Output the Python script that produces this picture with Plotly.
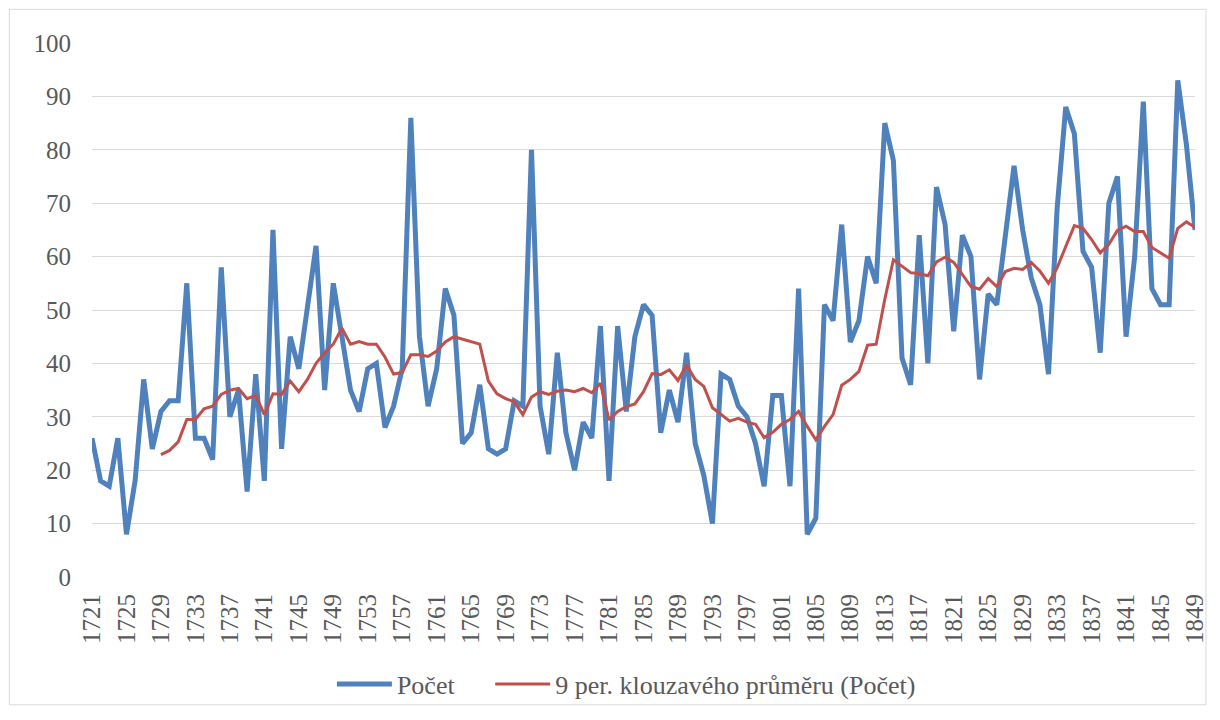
import plotly.graph_objects as go

years = list(range(1721, 1850))

pocet = [
    26, 18, 17, 26, 8, 18, 37, 24, 31, 33,      # 1721-1730
    33, 55, 26, 26, 22, 58, 30, 35, 16, 38,     # 1731-1740
    18, 65, 24, 45, 39, 50, 62, 35, 55, 45,     # 1741-1750
    35, 31, 39, 40, 28, 32, 39, 86, 45, 32,     # 1751-1760
    39, 54, 49, 25, 27, 36, 24, 23, 24, 33,     # 1761-1770
    32, 80, 32, 23, 42, 27, 20, 29, 26, 47,     # 1771-1780
    18, 47, 31, 45, 51, 49, 27, 35, 29, 42,     # 1781-1790
    25, 19, 10, 38, 37, 32, 30, 25, 17, 34,     # 1791-1800
    34, 17, 54, 8, 11, 51, 48, 66, 44, 48,      # 1801-1810
    60, 55, 85, 78, 41, 36, 64, 40, 73, 66,     # 1811-1820
    46, 64, 60, 37, 53, 51, 65, 77, 65, 56,     # 1821-1830
    51, 38, 69, 88, 83, 61, 58, 42, 70, 75,     # 1831-1840
    45, 60, 89, 54, 51, 51, 93, 81, 65,         # 1841-1849
]

klouzavy = [None] * 8 + [
    22.9, 23.7,                                                   # 1729-1730
    25.3, 29.5, 29.5, 31.5, 32.0, 34.2, 35.0, 35.3, 33.4, 34.0,   # 1731-1740
    30.4, 34.3, 34.2, 36.7, 34.7, 37.0, 40.0, 42.0, 43.6, 46.6,   # 1741-1750
    43.6, 44.1, 43.6, 43.6, 41.2, 38.0, 38.3, 41.6, 41.6, 41.3,   # 1751-1760
    42.3, 44.0, 45.0, 44.5, 44.0, 43.6, 36.7, 34.3, 33.4, 32.8,   # 1761-1770
    30.4, 33.7, 34.7, 34.2, 34.8, 35.0, 34.7, 35.3, 34.5, 36.3,   # 1771-1780
    29.4, 31.0, 31.9, 32.4, 34.7, 38.1, 37.9, 38.8, 36.8, 39.7,   # 1781-1790
    37.0, 35.7, 31.7, 30.4, 29.2, 29.7, 29.0, 28.6, 26.1, 27.1,   # 1791-1800
    28.6, 29.5, 31.0, 28.2, 25.7, 28.2, 30.4, 35.9, 37.0, 38.5,   # 1801-1810
    43.4, 43.6, 52.0, 59.4, 58.2, 57.0, 56.8, 56.4, 59.0, 59.9,   # 1811-1820
    58.9, 56.6, 54.4, 53.9, 55.9, 54.4, 57.2, 57.8, 57.6, 58.9,   # 1821-1830
    57.3, 55.0, 57.9, 61.9, 65.8, 65.3, 63.2, 60.7, 62.3, 64.9,   # 1831-1840
    65.7, 64.7, 64.7, 61.7, 60.7, 59.7, 65.3, 66.5, 65.5,         # 1841-1849
]

tick_years = list(range(1721, 1850, 4))
tick_labels = [str(y) for y in tick_years]
y_ticks = list(range(0, 101, 10))

FONT = "Liberation Serif"
GRAY = "#595959"
FS = 25

fig = go.Figure()
fig.add_trace(go.Scatter(
    x=years, y=pocet, mode="lines", name="Počet",
    line=dict(color="#4f81bd", width=5), legend="legend",
))
fig.add_trace(go.Scatter(
    x=years, y=klouzavy, mode="lines", name="9 per. klouzavého průměru (Počet)",
    line=dict(color="#c0504d", width=3), legend="legend2",
))

# page body has an 8px margin, so the figure is placed at (8, 8) in the window
W, H = 1212, 712
L, R, T, B = 84, 20, 35, 138
pw, ph = W - L - R, H - T - B

leg_common = dict(orientation="h", xanchor="left", y=-0.2004, yanchor="middle",
                  font=dict(family=FONT, size=26, color=GRAY), itemwidth=55,
                  bgcolor="rgba(0,0,0,0)")

fig.update_layout(
    width=W, height=H,
    margin=dict(l=L, r=R, t=T, b=B),
    paper_bgcolor="white", plot_bgcolor="white",
    font=dict(family=FONT, size=FS, color=GRAY),
    showlegend=True,
    legend=dict(x=0.2175, **leg_common),
    legend2=dict(x=0.361, **leg_common),
    shapes=[dict(type="rect", xref="paper", yref="paper",
                 x0=(1 - L) / pw, x1=(1203 - L) / pw,
                 y0=(H - B - 703) / ph, y1=(H - B - 1) / ph,
                 line=dict(color="#d9d9d9", width=1), fillcolor="rgba(0,0,0,0)", layer="below")],
)
fig.update_xaxes(
    range=[1721, 1849], tickmode="array", tickvals=tick_years, ticktext=tick_labels,
    tickangle=-90, showgrid=False, showline=False, zeroline=False,
    ticks="", ticklabelstandoff=11,
    tickfont=dict(family=FONT, size=FS, color=GRAY),
)
fig.update_yaxes(
    range=[0, 100], tickmode="array", tickvals=y_ticks,
    showgrid=True, gridcolor="#d9d9d9", gridwidth=1, zeroline=False,
    showline=False, ticks="", ticklabelstandoff=20,
    tickfont=dict(family=FONT, size=FS, color=GRAY),
)

fig.write_html("out.html")
